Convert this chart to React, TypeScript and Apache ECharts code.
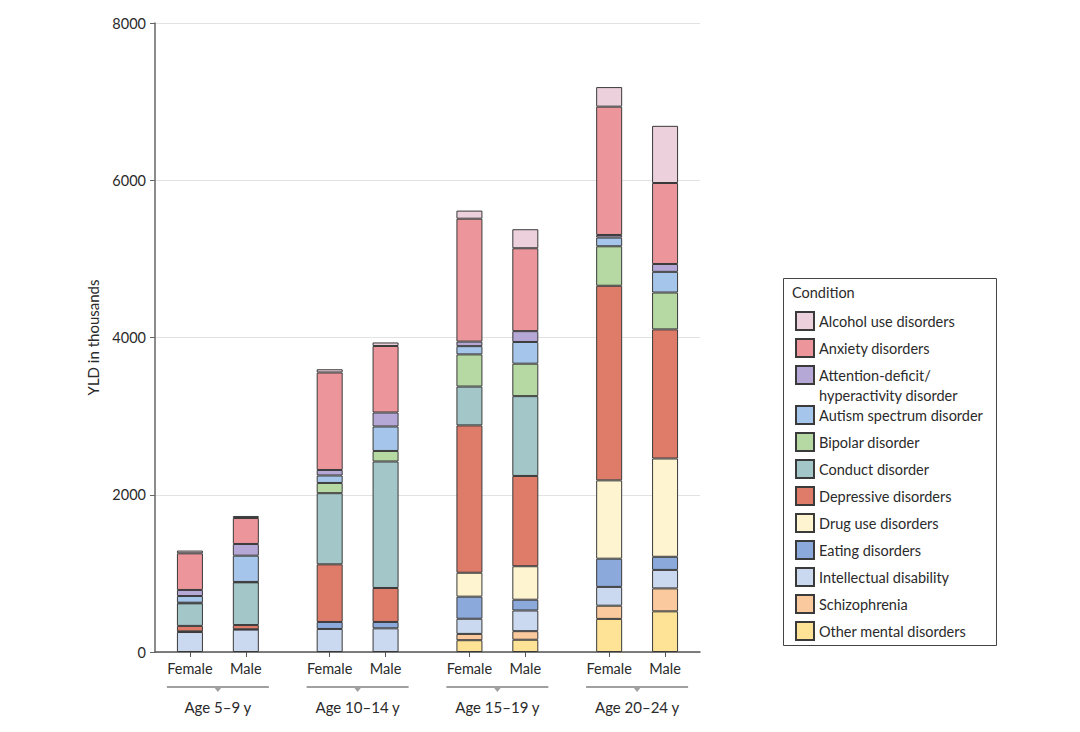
import React, { useEffect, useRef } from "react";
import * as echarts from "echarts";

// Bars in order: F 5-9, M 5-9, F 10-14, M 10-14, F 15-19, M 15-19, F 20-24, M 20-24
const ageGroups = ["Age 5–9 y", "Age 10–14 y", "Age 15–19 y", "Age 20–24 y"];
const sexes = ["Female", "Male"];

const otherMental = [0, 0, 0, 0, 150, 156, 421, 517];
const schizophrenia = [0, 0, 0, 0, 80, 109, 168, 292];
const intellectual = [254, 285, 293, 301, 193, 263, 239, 235];
const eating = [8, 4, 89, 81, 281, 137, 359, 167];
const drugUse = [0, 0, 0, 0, 304, 426, 996, 1250];
const depressive = [70, 54, 733, 432, 1874, 1148, 2475, 1642];
const conduct = [287, 543, 905, 1609, 494, 1015, 0, 0];
const bipolar = [8, 5, 130, 134, 409, 413, 502, 469];
const autism = [85, 334, 95, 311, 105, 276, 111, 263];
const adhd = [77, 149, 70, 178, 58, 138, 33, 100];
const anxiety = [466, 330, 1240, 846, 1563, 1054, 1632, 1030];
const alcohol = [35, 26, 41, 45, 103, 242, 249, 727];

const yTicks = [0, 2000, 4000, 6000, 8000];

// stacking order bottom -> top
const seriesDefs = [
  { name: "Other mental disorders", data: otherMental, color: "#FEE396" },
  { name: "Schizophrenia", data: schizophrenia, color: "#FAC99D" },
  { name: "Intellectual disability", data: intellectual, color: "#CAD9EF" },
  { name: "Eating disorders", data: eating, color: "#8BA9DA" },
  { name: "Drug use disorders", data: drugUse, color: "#FFF4D0" },
  { name: "Depressive disorders", data: depressive, color: "#DF7C69" },
  { name: "Conduct disorder", data: conduct, color: "#A3C6C8" },
  { name: "Bipolar disorder", data: bipolar, color: "#B6D8A3" },
  { name: "Autism spectrum disorder", data: autism, color: "#A5C6EA" },
  { name: "Attention-deficit/hyperactivity disorder", data: adhd, color: "#B5A7D6" },
  { name: "Anxiety disorders", data: anxiety, color: "#EC969C" },
  { name: "Alcohol use disorders", data: alcohol, color: "#ECD1DD" },
];

// layout: fine category slots so that bar spacing matches the figure
const SLOT_COUNT = 39;
const barSlots = [2, 6, 12, 16, 22, 26, 32, 36];
const slotNames = Array.from({ length: SLOT_COUNT }, (_, i) => "s" + i);
const slotLabel: Record<number, string> = {};
barSlots.forEach((s, i) => (slotLabel[s] = sexes[i % 2]));
const slotSet = new Set(barSlots);

const FONT = "Lato, 'Open Sans', sans-serif";
const TEXT = "#2a2a2a";
const FS = 14.5;

function toSlots(values: number[]) {
  const arr: any[] = Array(SLOT_COUNT).fill("-");
  barSlots.forEach((s, i) => {
    arr[s] = values[i] > 0 ? values[i] : "-";
  });
  return arr;
}

const legendOrder = [
  "Alcohol use disorders",
  "Anxiety disorders",
  "Attention-deficit/hyperactivity disorder",
  "Autism spectrum disorder",
  "Bipolar disorder",
  "Conduct disorder",
  "Depressive disorders",
  "Drug use disorders",
  "Eating disorders",
  "Intellectual disability",
  "Schizophrenia",
  "Other mental disorders",
];

export default function App() {
  const ref = useRef<HTMLDivElement>(null);
  useEffect(() => {
    const chart = echarts.init(ref.current!, null, { renderer: "svg" });
    const legendBase = {
      orient: "vertical",
      left: 795,
      padding: 0,
      itemWidth: 18,
      itemHeight: 18,
      itemGap: 7,
      icon: "rect",
      selectedMode: false,
      textStyle: { fontFamily: FONT, fontSize: FS, color: TEXT },
    };
    const option: any = {
      animation: false,
      backgroundColor: "#ffffff",
      textStyle: { fontFamily: FONT },
      grid: { left: 155, right: 380, top: 23, bottom: 80, containLabel: false },
      xAxis: {
        type: "category",
        data: slotNames,
        boundaryGap: true,
        axisLine: { show: true, lineStyle: { color: "#555", width: 1.5 } },
        axisTick: {
          show: true,
          alignWithLabel: true,
          length: 5,
          interval: (idx: number) => slotSet.has(idx),
          lineStyle: { color: "#555" },
        },
        axisLabel: {
          interval: (idx: number) => slotSet.has(idx),
          formatter: (_v: string, idx: number) => slotLabel[idx] || "",
          fontFamily: FONT,
          fontSize: FS,
          color: TEXT,
          margin: 9,
        },
        splitLine: { show: false },
      },
      yAxis: {
        type: "value",
        min: yTicks[0],
        max: yTicks[yTicks.length - 1],
        interval: yTicks[1] - yTicks[0],
        name: "YLD in thousands",
        nameLocation: "middle",
        nameGap: 55,
        nameTextStyle: { fontFamily: FONT, fontSize: 15, color: TEXT },
        axisLine: { show: true, lineStyle: { color: "#666", width: 1.5 } },
        axisTick: { show: true, length: 5, lineStyle: { color: "#666" } },
        axisLabel: {
          fontFamily: FONT,
          fontSize: FS,
          color: TEXT,
          margin: 9,
          formatter: (v: number) => String(v),
        },
        splitLine: { show: true, lineStyle: { color: "#e2e2e2", width: 1 } },
      },
      legend: [
        { ...legendBase, top: 311, data: legendOrder.slice(0, 2) },
        {
          ...legendBase,
          top: 345,
          textStyle: { ...legendBase.textStyle, lineHeight: 20 },
          data: [legendOrder[2]],
          formatter: () => "\nAttention-deficit/\nhyperactivity disorder",
        },
        { ...legendBase, top: 405, data: legendOrder.slice(3) },
      ],
      series: seriesDefs.map((d) => ({
        type: "bar",
        name: d.name,
        stack: "total",
        barWidth: 26,
        data: toSlots(d.data),
        itemStyle: { color: d.color, borderColor: "#3a3a3a", borderWidth: 1 },
        emphasis: { disabled: true },
      })),
    };
    chart.setOption(option);

    const gfx: any[] = [
      {
        type: "rect",
        shape: { x: 783.5, y: 278.5, width: 213, height: 367 },
        style: { fill: "none", stroke: "#444", lineWidth: 1 },
      },
      {
        type: "text",
        x: 792,
        y: 292,
        style: {
          text: "Condition",
          fontFamily: FONT,
          fontSize: FS,
          fill: TEXT,
          verticalAlign: "middle",
        },
      },
    ];
    ageGroups.forEach((g, gi) => {
      const x1 = chart.convertToPixel({ xAxisIndex: 0 }, slotNames[barSlots[gi * 2]]) as number;
      const x2 = chart.convertToPixel({ xAxisIndex: 0 }, slotNames[barSlots[gi * 2 + 1]]) as number;
      const c = (x1 + x2) / 2;
      gfx.push({
        type: "line",
        shape: { x1: c - 51, y1: 687, x2: c + 51, y2: 687 },
        style: { stroke: "#a0a0a0", lineWidth: 2 },
      });
      gfx.push({
        type: "polygon",
        shape: { points: [[c - 4, 687], [c + 4, 687], [c, 692]] },
        style: { fill: "#a0a0a0" },
      });
      gfx.push({
        type: "text",
        x: c,
        y: 707,
        style: {
          text: g,
          fontFamily: FONT,
          fontSize: 15,
          fill: TEXT,
          align: "center",
          verticalAlign: "middle",
        },
      });
    });
    chart.setOption({ graphic: gfx });
    return () => chart.dispose();
  }, []);
  return (
    <div
      ref={ref}
      style={{ position: "fixed", left: 0, top: 0, width: 1080, height: 732, background: "#fff" }}
    />
  );
}
